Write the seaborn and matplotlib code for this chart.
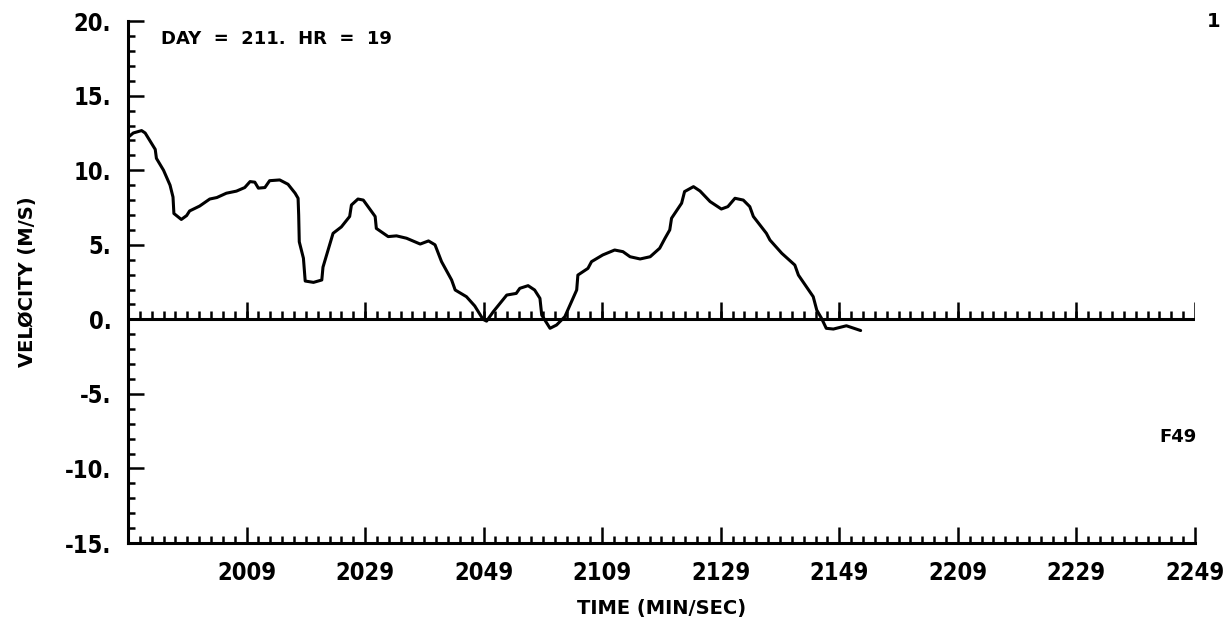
import matplotlib
matplotlib.use("Agg")
import matplotlib.pyplot as plt
import seaborn as sns
import pandas as pd
import numpy as np

# time in seconds after 19:49 (MIN/SEC), velocity in m/s
secs = [0, 0.9, 2.3, 2.9, 4.6, 4.8, 6.0, 7.1, 7.6, 7.75, 9.0, 9.9, 10.4, 12.1, 13.8,
        15.0, 16.6, 18.3, 19.7, 20.6, 21.4, 22.0, 23.1, 23.9, 25.6, 27.0, 28.2, 28.7,
        28.8, 28.9, 29.6, 29.9, 31.3, 32.7, 32.9, 34.6, 36.0, 37.4, 37.7, 38.8, 39.7,
        41.7, 41.9, 43.9, 45.3, 47.0, 49.3, 50.7, 51.8, 52.9, 54.6, 55.2, 57.1, 58.5,
        59.9, 60.5, 61.6, 63.9, 65.5, 66.1, 67.5, 68.6, 69.5, 69.8, 71.2, 72.3, 73.7,
        75.7, 75.9, 77.6, 78.2, 80.1, 82.1, 83.5, 84.7, 86.4, 88.1, 89.7, 90.6, 91.4,
        91.7, 93.4, 93.9, 95.4, 96.5, 98.2, 100.1, 101.2, 102.4, 103.8, 104.9, 105.5,
        107.7, 108.3, 110.3, 112.5, 113.1, 115.6, 116.2, 117.0, 117.8, 119.0, 121.2,
        123.6]
vel = [12.2, 12.5, 12.66, 12.5, 11.4, 10.8, 10.0, 9.0, 8.2, 7.1, 6.7, 6.96, 7.27, 7.6,
       8.07, 8.17, 8.46, 8.6, 8.84, 9.24, 9.2, 8.8, 8.84, 9.3, 9.35, 9.06, 8.46, 8.12,
       7.0, 5.2, 4.1, 2.57, 2.48, 2.64, 3.5, 5.77, 6.2, 6.9, 7.67, 8.07, 8.0, 6.9, 6.1,
       5.55, 5.6, 5.44, 5.05, 5.26, 5.0, 3.87, 2.64, 1.97, 1.52, 0.9, 0.0, -0.12, 0.5,
       1.63, 1.74, 2.08, 2.26, 1.97, 1.41, 0.29, -0.6, -0.38, 0.18, 1.97, 2.97, 3.42,
       3.87, 4.32, 4.65, 4.54, 4.2, 4.05, 4.2, 4.77, 5.44, 6.0, 6.78, 7.79, 8.57, 8.9,
       8.61, 7.9, 7.4, 7.56, 8.12, 8.0, 7.56, 6.9, 5.77, 5.32, 4.43, 3.64, 2.97, 1.52,
       0.62, 0.07, -0.6, -0.65, -0.43, -0.75]

xtick_secs = [20, 40, 60, 80, 100, 120, 140, 160, 180]
xtick_labels = ["2009", "2029", "2049", "2109", "2129", "2149", "2209", "2229", "2249"]
ytick_vals = [-15, -10, -5, 0, 5, 10, 15, 20]
ytick_labels = ["-15.", "-10.", "-5.", "0.", "5.", "10.", "15.", "20."]

df = pd.DataFrame({"t": secs, "v": vel})

sns.set_style("white")
plt.rcParams["font.family"] = ["DejaVu Sans"]
plt.rcParams["font.weight"] = "bold"
plt.rcParams["text.color"] = "black"
plt.rcParams["axes.labelcolor"] = "black"

fig = plt.figure(figsize=(12.28, 6.22), dpi=100)
ax = fig.add_axes([0.1042, 0.127, 0.8689, 0.839])

sns.lineplot(data=df, x="t", y="v", color="black", linewidth=2.2, ax=ax, sort=False)

ax.set_xlim(0, 180)
ax.set_ylim(-15, 20)

# zero line with its own tick marks
ax.axhline(0, color="black", linewidth=2.2)
ax.vlines(np.arange(2, 180, 2), 0, 0.55, color="black", linewidth=1.8)
ax.vlines(xtick_secs, 0, 1.15, color="black", linewidth=1.8)

ax.set_xticks(xtick_secs)
ax.set_xticklabels(xtick_labels, fontsize=17, fontweight="bold", fontstretch="condensed")
ax.set_xticks(np.arange(0, 181, 2), minor=True)
ax.set_yticks(ytick_vals)
ax.set_yticklabels(ytick_labels, fontsize=17, fontweight="bold", fontstretch="condensed")
ax.set_yticks(np.arange(-15, 21, 1), minor=True)

ax.tick_params(axis="both", which="both", bottom=True, left=True, top=False, right=False)
ax.tick_params(axis="both", which="major", direction="in", length=11.5, width=1.8,
               pad=12, colors="black")
ax.tick_params(axis="both", which="minor", direction="in", length=5, width=1.8,
               colors="black")
ax.tick_params(axis="x", which="major", pad=13)

for side in ["top", "right"]:
    ax.spines[side].set_visible(False)
for side in ["left", "bottom"]:
    ax.spines[side].set_linewidth(2.2)
    ax.spines[side].set_color("black")

ax.set_xlabel("TIME (MIN/SEC)", fontsize=14, fontweight="bold", labelpad=10)
ax.set_ylabel("VELØCITY (M/S)", fontsize=14, fontweight="bold", labelpad=20)

ax.text(0.031, 0.9655, "DAY  =  211.  HR  =  19", transform=ax.transAxes,
        fontsize=13, fontweight="bold", va="center", ha="left", color="black")
fig.text(0.9593, 0.2974, "F49", fontsize=13, fontweight="bold", ha="center", va="center",
         color="black")
fig.text(0.988, 0.965, "1", fontsize=14, fontweight="bold", ha="center", va="center",
         color="black")

fig.savefig("out.png", dpi=100, facecolor="white")
plt.close(fig)
